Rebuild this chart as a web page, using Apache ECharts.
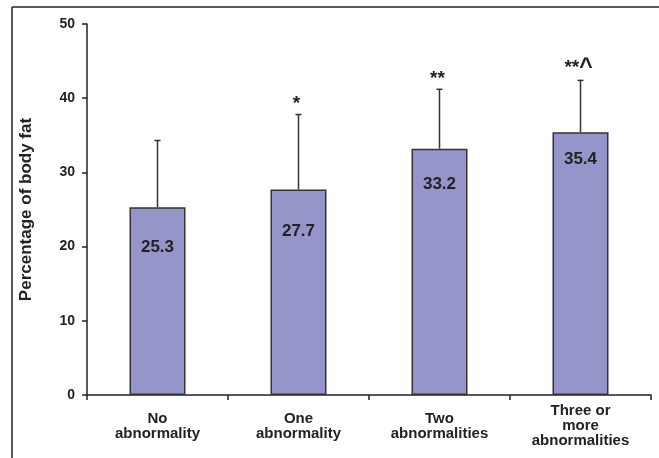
<!DOCTYPE html>
<html>
<head>
<meta charset="utf-8">
<script src="https://cdn.jsdelivr.net/npm/echarts@6/dist/echarts.min.js"></script>
<style>
  html, body { margin: 0; padding: 0; background: #fff; }
  #chart { width: 659px; height: 458px; }
</style>
</head>
<body>
<div id="chart"></div>
<script>
// data
const categories = ['No\nabnormality', 'One\nabnormality', 'Two\nabnormalities', 'Three or\nmore\nabnormalities'];
const bodyFat = [25.3, 27.7, 33.2, 35.4];
const sdUpper = [9.0, 10.1, 8.0, 7.0];
const marks = ['', '*', '**', '**^'];
const yTicks = [0, 10, 20, 30, 40, 50];

const FONT = '"Liberation Sans", Arial, sans-serif';
const INK = '#222';

const chart = echarts.init(document.getElementById('chart'));

// where the value sits inside each bar (px below bar top)
const labelDist = [32, 33, 27, 18];

const barData = bodyFat.map((v, i) => ({
    value: v,
    label: {distance: labelDist[i]}
}));

const errData = bodyFat.map((v, i) => [i, v, v + sdUpper[i]]);

const option = {
    backgroundColor: '#fff',
    animation: false,
    grid: {left: 87, right: 8, top: 24, bottom: 63},
    xAxis: {
        type: 'category',
        data: categories,
        axisLine: {lineStyle: {color: INK, width: 1.5}},
        axisTick: {show: true, length: 5, lineStyle: {color: INK, width: 1.5}},
        axisLabel: {
            interval: 0,
            color: INK,
            fontFamily: FONT,
            fontWeight: 'bold',
            fontSize: 15,
            lineHeight: 15,
            verticalAlign: 'middle',
            margin: 31
        }
    },
    yAxis: {
        type: 'value',
        min: yTicks[0],
        max: yTicks[yTicks.length - 1],
        interval: 10,
        name: 'Percentage of body fat',
        nameLocation: 'middle',
        nameGap: 52,
        nameTextStyle: {color: INK, fontFamily: FONT, fontWeight: 'bold', fontSize: 17},
        splitLine: {show: false},
        axisLine: {show: true, lineStyle: {color: INK, width: 1.5}},
        axisTick: {show: true, length: 5, lineStyle: {color: INK, width: 1.5}},
        axisLabel: {color: INK, fontFamily: FONT, fontWeight: 'bold', fontSize: 14, margin: 12}
    },
    graphic: [
        // outer frame (top and left edges only visible)
        {type: 'line', shape: {x1: 12, y1: 7, x2: 659, y2: 7}, style: {stroke: INK, lineWidth: 1.5}},
        {type: 'line', shape: {x1: 12, y1: 7, x2: 12, y2: 458}, style: {stroke: INK, lineWidth: 1.5}}
    ],
    series: [
        {
            type: 'bar',
            data: barData,
            barWidth: 56,
            z: 2,
            itemStyle: {color: '#9595C9', borderColor: '#333', borderWidth: 1.5},
            label: {
                show: true,
                position: 'insideTop',
                color: INK,
                fontFamily: FONT,
                fontWeight: 'bold',
                fontSize: 17
            }
        },
        {
            // error whiskers and significance marks
            type: 'custom',
            data: errData,
            z: 3,
            renderItem: function (params, api) {
                const base = api.coord([api.value(0), api.value(1)]);
                const top = api.coord([api.value(0), api.value(2)]);
                const mark = marks[params.dataIndex].replace('^', '{c|^}');
                return {
                    type: 'group',
                    children: [
                        {type: 'line', shape: {x1: base[0], y1: base[1], x2: top[0], y2: top[1]},
                            style: {stroke: '#333', lineWidth: 1.5}},
                        {type: 'line', shape: {x1: top[0] - 3, y1: top[1], x2: top[0] + 3, y2: top[1]},
                            style: {stroke: '#333', lineWidth: 1.5}},
                        {type: 'text', x: top[0] - 2, y: top[1] - 1,
                            style: {text: mark, fill: INK, font: 'bold 19px ' + FONT,
                                align: 'center', verticalAlign: 'bottom',
                                rich: {c: {font: 'bold 23px ' + FONT, fill: INK}}}}
                    ]
                };
            }
        }
    ]
};

chart.setOption(option);
</script>
</body>
</html>
